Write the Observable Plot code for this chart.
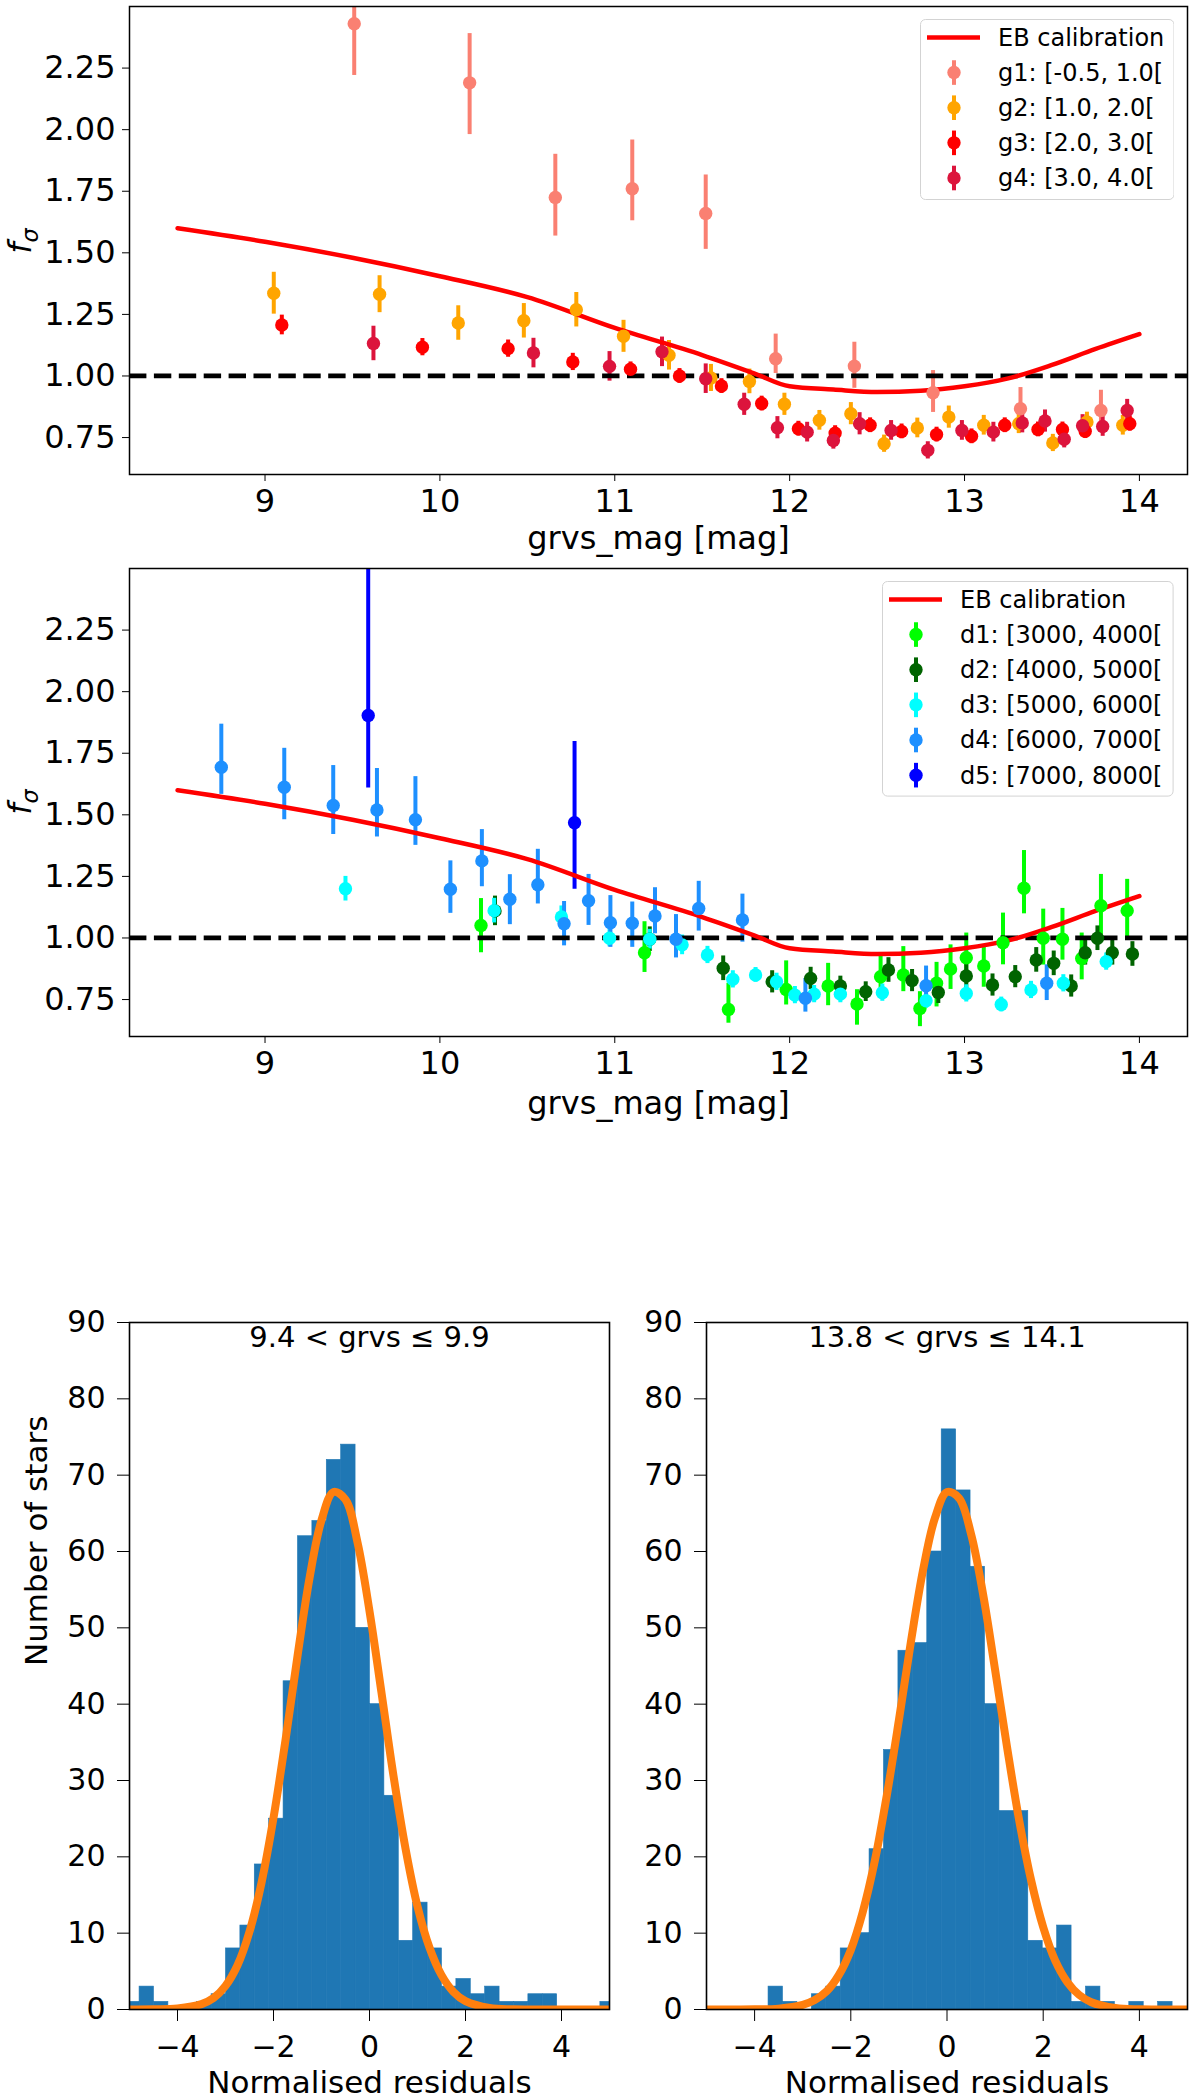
<!DOCTYPE html>
<html>
<head>
<meta charset="utf-8">
<script src="https://cdn.jsdelivr.net/npm/d3@7"></script>
<script src="https://cdn.jsdelivr.net/npm/@observablehq/plot@0.6"></script>
<style>
  body { margin: 0; background: #fff; }
  #fig { position: relative; width: 1200px; height: 2099px; overflow: hidden; background: #fff; font-family: "DejaVu Sans"; }
  #fig > svg { position: absolute; }
  .ylab { position: absolute; white-space: nowrap; transform: translate(-50%, -50%) rotate(-90deg); font-family: "DejaVu Sans"; color: #000; }
</style>
</head>
<body>
<div id="fig"></div>
<script>
// ---- EB calibration curve (both upper panels)
const ebMag = [8.5, 9.0, 9.5, 10.0, 10.5, 11.0, 11.5, 11.8, 12.0, 12.25, 12.5, 12.75, 13.0, 13.25, 13.5, 13.75, 14.0]
const ebF   = [1.60, 1.545, 1.48, 1.405, 1.32, 1.195, 1.085, 1.01, 0.958, 0.945, 0.935, 0.94, 0.958, 0.99, 1.045, 1.11, 1.17]

// ---- panel 1 : colour groups (errLo / errHi = lower / upper error)
const g1Mag   = [9.51, 10.17, 10.66, 11.10, 11.52, 11.92, 12.37, 12.82, 13.32, 13.78]
const g1F     = [2.43, 2.19, 1.725, 1.76, 1.66, 1.07, 1.04, 0.932, 0.867, 0.86]
const g1ErrLo = [0.21, 0.21, 0.157, 0.13, 0.146, 0.06, 0.09, 0.08, 0.07, 0.07]
const g1ErrHi = [0.30, 0.20, 0.175, 0.198, 0.156, 0.10, 0.097, 0.09, 0.086, 0.082]

const g2Mag = [9.05, 9.655, 10.105, 10.48, 10.78, 11.05, 11.31, 11.55, 11.77, 11.97, 12.17, 12.35, 12.54, 12.73, 12.91, 13.11, 13.31, 13.505, 13.70, 13.905]
const g2F   = [1.336, 1.332, 1.215, 1.224, 1.269, 1.161, 1.084, 0.992, 0.978, 0.885, 0.82, 0.847, 0.725, 0.789, 0.833, 0.80, 0.806, 0.728, 0.813, 0.80]
const g2Err = [0.085, 0.075, 0.07, 0.07, 0.07, 0.065, 0.06, 0.055, 0.05, 0.045, 0.04, 0.045, 0.035, 0.04, 0.045, 0.04, 0.04, 0.035, 0.04, 0.04]

const g3Mag = [9.096, 9.90, 10.39, 10.76, 11.09, 11.37, 11.61, 11.84, 12.05, 12.26, 12.46, 12.64, 12.84, 13.04, 13.23, 13.42, 13.56, 13.69, 13.945]
const g3F   = [1.207, 1.117, 1.111, 1.057, 1.027, 1.0, 0.959, 0.888, 0.786, 0.768, 0.80, 0.775, 0.762, 0.755, 0.80, 0.783, 0.783, 0.776, 0.806]
const g3Err = [0.04, 0.035, 0.035, 0.035, 0.03, 0.03, 0.03, 0.03, 0.03, 0.03, 0.03, 0.03, 0.03, 0.03, 0.03, 0.03, 0.03, 0.03, 0.03]

const g4Mag = [9.62, 10.535, 10.97, 11.27, 11.52, 11.74, 11.93, 12.10, 12.25, 12.40, 12.58, 12.79, 12.985, 13.165, 13.33, 13.46, 13.57, 13.675, 13.79, 13.93]
const g4F   = [1.132, 1.093, 1.039, 1.098, 0.989, 0.885, 0.79, 0.772, 0.738, 0.806, 0.779, 0.698, 0.779, 0.772, 0.809, 0.817, 0.743, 0.798, 0.795, 0.86]
const g4Err = [0.07, 0.06, 0.06, 0.06, 0.06, 0.045, 0.045, 0.04, 0.035, 0.045, 0.04, 0.035, 0.04, 0.04, 0.04, 0.045, 0.035, 0.045, 0.04, 0.045]

// ---- panel 2 : distance groups
const d1Mag   = [10.235, 11.17, 11.65, 11.98, 12.22, 12.385, 12.52, 12.65, 12.745, 12.84, 12.92, 13.01, 13.11, 13.22, 13.34, 13.45, 13.56, 13.67, 13.78, 13.93]
const d1F     = [1.051, 0.94, 0.71, 0.791, 0.805, 0.732, 0.843, 0.85, 0.714, 0.816, 0.874, 0.92, 0.886, 0.981, 1.202, 0.999, 0.995, 0.917, 1.131, 1.111]
const d1ErrLo = [0.111, 0.08, 0.056, 0.063, 0.08, 0.086, 0.08, 0.068, 0.074, 0.096, 0.083, 0.104, 0.086, 0.09, 0.104, 0.109, 0.085, 0.087, 0.131, 0.111]
const d1ErrHi = [0.109, 0.126, 0.106, 0.116, 0.092, 0.058, 0.083, 0.115, 0.068, 0.085, 0.098, 0.10, 0.085, 0.12, 0.153, 0.118, 0.125, 0.103, 0.127, 0.127]

const d2Mag = [10.315, 11.20, 11.62, 11.90, 12.12, 12.29, 12.435, 12.565, 12.70, 12.85, 13.01, 13.16, 13.29, 13.41, 13.51, 13.61, 13.69, 13.76, 13.845, 13.96]
const d2F   = [1.11, 0.995, 0.877, 0.822, 0.836, 0.805, 0.782, 0.87, 0.827, 0.779, 0.846, 0.809, 0.843, 0.911, 0.897, 0.805, 0.94, 0.999, 0.94, 0.935]
const d2Err = [0.06, 0.05, 0.05, 0.045, 0.045, 0.04, 0.04, 0.05, 0.045, 0.045, 0.05, 0.045, 0.045, 0.05, 0.05, 0.045, 0.05, 0.05, 0.05, 0.05]

const d3Mag = [9.46, 10.31, 10.695, 10.97, 11.20, 11.385, 11.53, 11.675, 11.805, 11.925, 12.03, 12.14, 12.29, 12.53, 12.78, 13.01, 13.21, 13.38, 13.565, 13.81]
const d3F   = [1.20, 1.111, 1.085, 0.999, 0.995, 0.972, 0.931, 0.832, 0.85, 0.822, 0.768, 0.772, 0.772, 0.778, 0.745, 0.775, 0.73, 0.789, 0.816, 0.904]
const d3Err = [0.05, 0.05, 0.045, 0.035, 0.04, 0.04, 0.035, 0.035, 0.03, 0.035, 0.035, 0.035, 0.035, 0.035, 0.03, 0.035, 0.03, 0.035, 0.035, 0.035]

const d4Mag   = [8.75, 9.11, 9.39, 9.64, 9.86, 10.06, 10.24, 10.40, 10.56, 10.71, 10.85, 10.975, 11.10, 11.23, 11.35, 11.48, 11.73, 12.09, 12.78, 13.47]
const d4F     = [1.693, 1.612, 1.538, 1.52, 1.48, 1.198, 1.313, 1.157, 1.216, 1.058, 1.151, 1.062, 1.06, 1.089, 0.995, 1.12, 1.073, 0.755, 0.806, 0.816]
const d4ErrLo = [0.11, 0.132, 0.118, 0.11, 0.104, 0.098, 0.105, 0.103, 0.078, 0.09, 0.10, 0.10, 0.098, 0.072, 0.076, 0.092, 0.09, 0.056, 0.076, 0.07]
const d4ErrHi = [0.175, 0.158, 0.162, 0.168, 0.175, 0.115, 0.127, 0.10, 0.144, 0.09, 0.107, 0.11, 0.086, 0.115, 0.10, 0.11, 0.105, 0.08, 0.08, 0.075]

const d5Mag   = [9.59, 10.77]
const d5F     = [1.903, 1.468]
const d5ErrLo = [0.294, 0.27]
const d5ErrHi = [0.70, 0.33]

// ---- histograms of normalised residuals
const histLeftEdges  = [-5.09, -4.79, -4.49, -4.19, -3.89, -3.59, -3.29, -2.99, -2.69, -2.39, -2.09, -1.79, -1.49, -1.19, -0.89, -0.59, -0.29, 0.01, 0.31, 0.61, 0.91, 1.21, 1.51, 1.81, 2.11, 2.41, 2.71, 3.01, 3.31, 3.61, 3.91, 4.21, 4.51, 4.81, 5.11]
const histLeftCounts = [1, 3, 1, 0, 0, 1, 2, 8, 11, 19, 25, 43, 62, 64, 72, 74, 50, 40, 28, 9, 14, 8, 3, 4, 2, 3, 1, 1, 2, 2, 0, 0, 0, 1]
const fitLeftX = [-5, -4.5, -4, -3.5, -3.25, -3, -2.75, -2.5, -2.25, -2, -1.75, -1.5, -1.25, -1, -0.75, -0.5, -0.25, 0, 0.25, 0.5, 0.75, 1, 1.25, 1.5, 1.75, 2, 2.5, 3, 4, 5]
const fitLeftY = [0, 0.02, 0.12, 0.7, 1.5, 3.1, 5.8, 10.2, 16.6, 25.1, 35.3, 46.3, 56.5, 64.1, 67.8, 66.8, 61.2, 52.2, 41.5, 30.6, 21.1, 13.5, 8.1, 4.5, 2.3, 1.1, 0.2, 0.03, 0, 0]

const histRightEdges  = [-3.71, -3.41, -3.11, -2.81, -2.51, -2.21, -1.91, -1.61, -1.31, -1.01, -0.71, -0.41, -0.11, 0.19, 0.49, 0.79, 1.09, 1.39, 1.69, 1.99, 2.29, 2.59, 2.89, 3.19, 3.49, 3.79, 4.09, 4.39, 4.69]
const histRightCounts = [3, 1, 0, 2, 3, 8, 10, 21, 34, 47, 48, 60, 76, 68, 58, 40, 26, 26, 9, 8, 11, 1, 3, 1, 0, 1, 0, 1]
const fitRightX = [-5, -4, -3.5, -3, -2.75, -2.5, -2.25, -2, -1.75, -1.5, -1.25, -1, -0.75, -0.5, -0.25, 0, 0.25, 0.5, 0.75, 1, 1.25, 1.5, 1.75, 2, 2.25, 2.5, 2.75, 3, 3.5, 4, 5]
const fitRightY = [0, 0.02, 0.11, 0.6, 1.24, 2.4, 4.5, 7.8, 12.8, 19.5, 28.1, 37.9, 48.2, 57.5, 64.4, 67.8, 67.0, 62.3, 54.4, 44.5, 34.3, 24.8, 16.9, 10.8, 6.4, 3.6, 1.9, 0.96, 0.2, 0.03, 0]

const FONT = "DejaVu Sans"
const fig = document.getElementById("fig")

function rows(mag, f, lo, hi, key) {
  return mag.map((m, i) => ({mag: m, f: f[i], lo: f[i] - lo[i], hi: f[i] + hi[i], key}))
}

function place(svg, left, top) {
  svg.style.left = left + "px"
  svg.style.top = top + "px"
  fig.append(svg)
}

function errorPanel(groups, colors, xLabelDy, marginTop, marginBottom, height) {
  const data = groups.flat()
  const eb = ebMag.map((m, i) => ({mag: m, f: ebF[i]}))
  return Plot.plot({
    width: 1200,
    height: height,
    marginTop: marginTop,
    marginBottom: marginBottom,
    marginLeft: 129,
    marginRight: 13,
    style: {fontFamily: FONT, fontSize: "32px", color: "black", background: "transparent"},
    x: {domain: [8.225, 14.275], ticks: [9, 10, 11, 12, 13, 14], tickFormat: "d", tickSize: 7, tickPadding: 8, label: null},
    y: {domain: [0.6, 2.5], ticks: [0.75, 1, 1.25, 1.5, 1.75, 2, 2.25], tickFormat: ".2f", tickSize: 7, tickPadding: 7, label: null},
    color: {domain: colors.map(c => c[0]), range: colors.map(c => c[1])},
    marks: [
      Plot.ruleX(data, {x: "mag", y1: "lo", y2: "hi", stroke: "key", strokeWidth: 4, clip: true}),
      Plot.ruleY([1], {stroke: "black", strokeWidth: 4.7, strokeDasharray: "17.4,7.5"}),
      Plot.line(eb, {x: "mag", y: "f", stroke: "#ff0000", strokeWidth: 4.5, curve: "monotone-x"}),
      Plot.dot(data, {x: "mag", y: "f", r: 6.7, fill: "key", clip: true}),
      Plot.frame({stroke: "black", strokeWidth: 1.5}),
      Plot.text(["grvs_mag [mag]"], {frameAnchor: "bottom", dy: xLabelDy, lineAnchor: "top", fontSize: 32})
    ]
  })
}

function legend(left, top, w, h, entries) {
  const svg = d3.create("svg").attr("width", w).attr("height", h)
    .style("left", left + "px").style("top", top + "px").style("position", "absolute")
  svg.append("rect").attr("x", 0.5).attr("y", 0.5).attr("width", w - 1).attr("height", h - 1)
    .attr("rx", 5).attr("fill", "white").attr("fill-opacity", 0.8).attr("stroke", "#d3d3d3")
  entries.forEach((e, i) => {
    const cy = 18.4 + i * 35.15
    if (e.line) {
      svg.append("line").attr("x1", 7).attr("x2", 60).attr("y1", cy).attr("y2", cy)
        .attr("stroke", e.color).attr("stroke-width", 4.5)
    } else {
      svg.append("line").attr("x1", 34).attr("x2", 34).attr("y1", cy - 12.3).attr("y2", cy + 12.3)
        .attr("stroke", e.color).attr("stroke-width", 4)
      svg.append("circle").attr("cx", 34).attr("cy", cy).attr("r", 6.7).attr("fill", e.color)
    }
    svg.append("text").attr("x", 78).attr("y", cy).attr("dy", "0.35em")
      .attr("font-family", FONT).attr("font-size", 24).text(e.label)
  })
  fig.append(svg.node())
}

function yLabel(x, y, html, size) {
  const div = document.createElement("div")
  div.className = "ylab"
  div.style.left = x + "px"
  div.style.top = y + "px"
  div.style.fontSize = size + "px"
  div.innerHTML = html
  fig.append(div)
}

function histPanel(edges, counts, fitX, fitY, title, width, marginLeft, marginRight, yLab) {
  const bins = counts.map((c, i) => ({x1: edges[i], x2: edges[i + 1], count: c})).filter(d => d.count > 0)
  const fit = fitX.map((x, i) => ({x, y: fitY[i]}))
  const marks = [
    Plot.rectY(bins, {x1: "x1", x2: "x2", y: "count", fill: "#1f77b4", stroke: "#1f77b4", strokeWidth: 0.6, clip: true}),
    Plot.line(fit, {x: "x", y: "y", stroke: "#ff7f0e", strokeWidth: 8, curve: "catmull-rom", clip: true}),
    Plot.frame({stroke: "black", strokeWidth: 1.6}),
    Plot.text([title], {frameAnchor: "top", dy: 4, lineAnchor: "top", fontSize: 29}),
    Plot.text(["Normalised residuals"], {frameAnchor: "bottom", dy: 61, lineAnchor: "top", fontSize: 31})
  ]
  if (yLab) marks.push(Plot.text([yLab], {frameAnchor: "left", dx: -92, rotate: -90, fontSize: 31}))
  return Plot.plot({
    width: width,
    height: 809,
    marginTop: 32,
    marginBottom: 90,
    marginLeft: marginLeft,
    marginRight: marginRight,
    style: {fontFamily: FONT, fontSize: "30px", color: "black", background: "transparent"},
    x: {domain: [-5, 5], ticks: [-4, -2, 0, 2, 4], tickSize: 12, tickPadding: 14, label: null},
    y: {domain: [0, 90], ticks: [0, 10, 20, 30, 40, 50, 60, 70, 80, 90], tickSize: 12, tickPadding: 12, label: null},
    marks
  })
}

// ---- panel 1
const colourGroups = [
  rows(g1Mag, g1F, g1ErrLo, g1ErrHi, "g1"), rows(g2Mag, g2F, g2Err, g2Err, "g2"),
  rows(g3Mag, g3F, g3Err, g3Err, "g3"), rows(g4Mag, g4F, g4Err, g4Err, "g4")
]
const colourKeys = [["g1", "#fa8072"], ["g2", "#ffa500"], ["g3", "#ff0000"], ["g4", "#dc143c"]]
place(errorPanel(colourGroups, colourKeys, 52, 6, 86, 560), 0, 0)
legend(919.5, 19.3, 254.5, 181, [
  {line: true, color: "#ff0000", label: "EB calibration"},
  {color: "#fa8072", label: "g1: [-0.5, 1.0["},
  {color: "#ffa500", label: "g2: [1.0, 2.0["},
  {color: "#ff0000", label: "g3: [2.0, 3.0["},
  {color: "#dc143c", label: "g4: [3.0, 4.0["}
])
yLabel(22, 241, "<i>f</i><sub style='font-size:0.7em'><i>σ</i></sub>", 32)

// ---- panel 2
const distGroups = [
  rows(d1Mag, d1F, d1ErrLo, d1ErrHi, "d1"), rows(d2Mag, d2F, d2Err, d2Err, "d2"),
  rows(d3Mag, d3F, d3Err, d3Err, "d3"), rows(d4Mag, d4F, d4ErrLo, d4ErrHi, "d4"),
  rows(d5Mag, d5F, d5ErrLo, d5ErrHi, "d5")
]
const distKeys = [["d1", "#00ff00"], ["d2", "#006400"], ["d3", "#00ffff"], ["d4", "#1e90ff"], ["d5", "#0000ff"]]
place(errorPanel(distGroups, distKeys, 55, 8, 104, 580), 0, 560)
legend(882.4, 581.4, 291.6, 215.6, [
  {line: true, color: "#ff0000", label: "EB calibration"},
  {color: "#00ff00", label: "d1: [3000, 4000["},
  {color: "#006400", label: "d2: [4000, 5000["},
  {color: "#00ffff", label: "d3: [5000, 6000["},
  {color: "#1e90ff", label: "d4: [6000, 7000["},
  {color: "#0000ff", label: "d5: [7000, 8000["}
])
yLabel(22, 802, "<i>f</i><sub style='font-size:0.7em'><i>σ</i></sub>", 32)

// ---- histograms
place(histPanel(histLeftEdges, histLeftCounts, fitLeftX, fitLeftY, "9.4 < grvs ≤ 9.9", 620, 129, 11, "Number of stars"), 0, 1290)
place(histPanel(histRightEdges, histRightCounts, fitRightX, fitRightY, "13.8 < grvs ≤ 14.1", 580, 86, 13, null), 620, 1290)
</script>
</body>
</html>
